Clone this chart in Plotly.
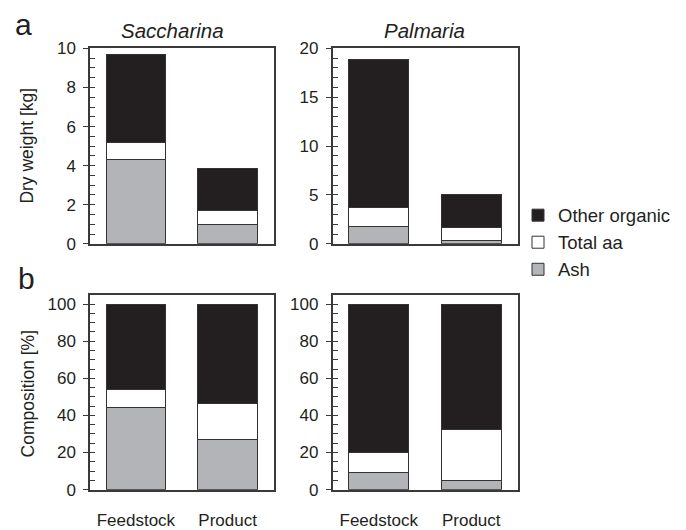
import plotly.graph_objects as go

categories = ["Feedstock", "Product"]
components = ["Ash", "Total aa", "Other organic"]

# Dry weight [kg] per component (stacked segments)
sacch_ash_kg = [4.29, 1.00]
sacch_aa_kg = [0.92, 0.72]
sacch_other_kg = [4.48, 2.11]
palm_ash_kg = [1.75, 0.30]
palm_aa_kg = [1.96, 1.32]
palm_other_kg = [15.13, 3.45]

# Composition [%] per component (stacked segments)
sacch_ash_pct = [44.3, 27.0]
sacch_aa_pct = [9.7, 19.5]
sacch_other_pct = [46.0, 53.5]
palm_ash_pct = [9.5, 5.0]
palm_aa_pct = [10.5, 27.5]
palm_other_pct = [80.0, 67.5]

colors = {"Ash": "#b2b4b7", "Total aa": "#ffffff", "Other organic": "#231f20"}
W, H = 686, 530
FONT = "Liberation Sans, Arial, sans-serif"
INK = "#231f20"
FRAME = "#3a3a3a"

panels = [
    # (xaxis, yaxis, [ash, aa, other])
    ("x", "y", [sacch_ash_kg, sacch_aa_kg, sacch_other_kg]),
    ("x2", "y2", [palm_ash_kg, palm_aa_kg, palm_other_kg]),
    ("x3", "y3", [sacch_ash_pct, sacch_aa_pct, sacch_other_pct]),
    ("x4", "y4", [palm_ash_pct, palm_aa_pct, palm_other_pct]),
]

fig = go.Figure()
for i, (xa, ya, series) in enumerate(panels):
    for name, vals in zip(components, series):
        fig.add_trace(go.Bar(
            x=categories, y=vals, name=name, xaxis=xa, yaxis=ya,
            marker=dict(color=colors[name], line=dict(color="#333333", width=1)),
            width=0.65, showlegend=(i == 0), legendgroup=name,
        ))


def px_x(p):
    return p / W


def px_y(p):
    return 1 - p / H


left_dom = [px_x(90), px_x(273.5)]
right_dom = [px_x(332.5), px_x(517.5)]
top_dom = [px_y(244), px_y(41)]
bot_dom = [px_y(499.5), px_y(297)]

tickfont = dict(family=FONT, size=17, color=INK)


def xaxis(dom, anchor, labels):
    return dict(
        domain=dom, anchor=anchor, type="category", range=[-0.5, 1.5],
        showline=True, mirror=True, linecolor=FRAME, linewidth=1.5,
        ticks="", showticklabels=labels, tickfont=tickfont,
        ticklabelstandoff=14, showgrid=False, zeroline=False,
    )


def yaxis(dom, anchor, rng, dtick):
    return dict(
        domain=dom, anchor=anchor, range=rng, dtick=dtick, tick0=0,
        showline=True, mirror=True, linecolor=FRAME, linewidth=1.5,
        ticks="outside", ticklen=5, tickwidth=1.3, tickcolor=FRAME,
        tickfont=tickfont, showgrid=False, zeroline=False,
        ticklabelstandoff=4,
    )


def inner_ticks(dom, anchor, over, rng, dtick):
    # overlaid axis carrying the inward-pointing fine tick marks
    return dict(
        domain=dom, anchor=anchor, overlaying=over, side="left",
        range=rng, dtick=dtick, tick0=0, ticks="inside", ticklen=5,
        tickwidth=1.3, tickcolor=FRAME, showticklabels=False,
        showline=False, showgrid=False, zeroline=False,
    )


fig.update_layout(
    width=W, height=H, margin=dict(l=0, r=0, t=0, b=0),
    paper_bgcolor="white", plot_bgcolor="white",
    barmode="stack", bargap=0.35,
    font=dict(family=FONT, color=INK),
    xaxis=xaxis(left_dom, "y", False),
    yaxis=yaxis(top_dom, "x", [0, 10], 2),
    xaxis2=xaxis(right_dom, "y2", False),
    yaxis2=yaxis(top_dom, "x2", [0, 20], 5),
    xaxis3=xaxis(left_dom, "y3", True),
    yaxis3=yaxis(bot_dom, "x3", [0, 105], 20),
    xaxis4=xaxis(right_dom, "y4", True),
    yaxis4=yaxis(bot_dom, "x4", [0, 105], 20),
    yaxis5=inner_ticks(top_dom, "x", "y", [0, 10], 0.5),
    yaxis6=inner_ticks(top_dom, "x2", "y2", [0, 20], 1),
    yaxis7=inner_ticks(bot_dom, "x3", "y3", [0, 105], 5),
    yaxis8=inner_ticks(bot_dom, "x4", "y4", [0, 105], 5),
    legend=dict(
        x=px_x(518), y=px_y(195), xanchor="left", yanchor="top",
        traceorder="reversed", font=dict(family=FONT, size=18.5, color=INK),
        bgcolor="rgba(0,0,0,0)", itemwidth=30, tracegroupgap=0,
    ),
)

# placeholder traces so the overlaid tick axes are laid out
for xa, ya in [("x", "y5"), ("x2", "y6"), ("x3", "y7"), ("x4", "y8")]:
    fig.add_trace(go.Scatter(x=[None], y=[None], xaxis=xa, yaxis=ya,
                             showlegend=False, hoverinfo="skip"))

annotations = [
    dict(text="a", x=px_x(13), y=px_y(16), xanchor="left", yanchor="middle",
         font=dict(size=30)),
    dict(text="b", x=px_x(16), y=px_y(280), xanchor="left", yanchor="middle",
         font=dict(size=30)),
    dict(text="<i>Saccharina</i>", x=px_x(172), y=px_y(22), xanchor="center",
         yanchor="middle", font=dict(size=20.5)),
    dict(text="<i>Palmaria</i>", x=px_x(424), y=px_y(22), xanchor="center",
         yanchor="middle", font=dict(size=20.5)),
    dict(text="Dry weight [kg]", x=px_x(27.5), y=px_y(142.5), xanchor="center",
         yanchor="middle", textangle=-90, font=dict(size=17.5)),
    dict(text="Composition [%]", x=px_x(27.5), y=px_y(400), xanchor="center",
         yanchor="middle", textangle=-90, font=dict(size=17.5)),
]
for a in annotations:
    a.update(xref="paper", yref="paper", showarrow=False)
    a["font"].update(family=FONT, color=INK)
fig.update_layout(annotations=annotations)

fig.write_html("out.html")
